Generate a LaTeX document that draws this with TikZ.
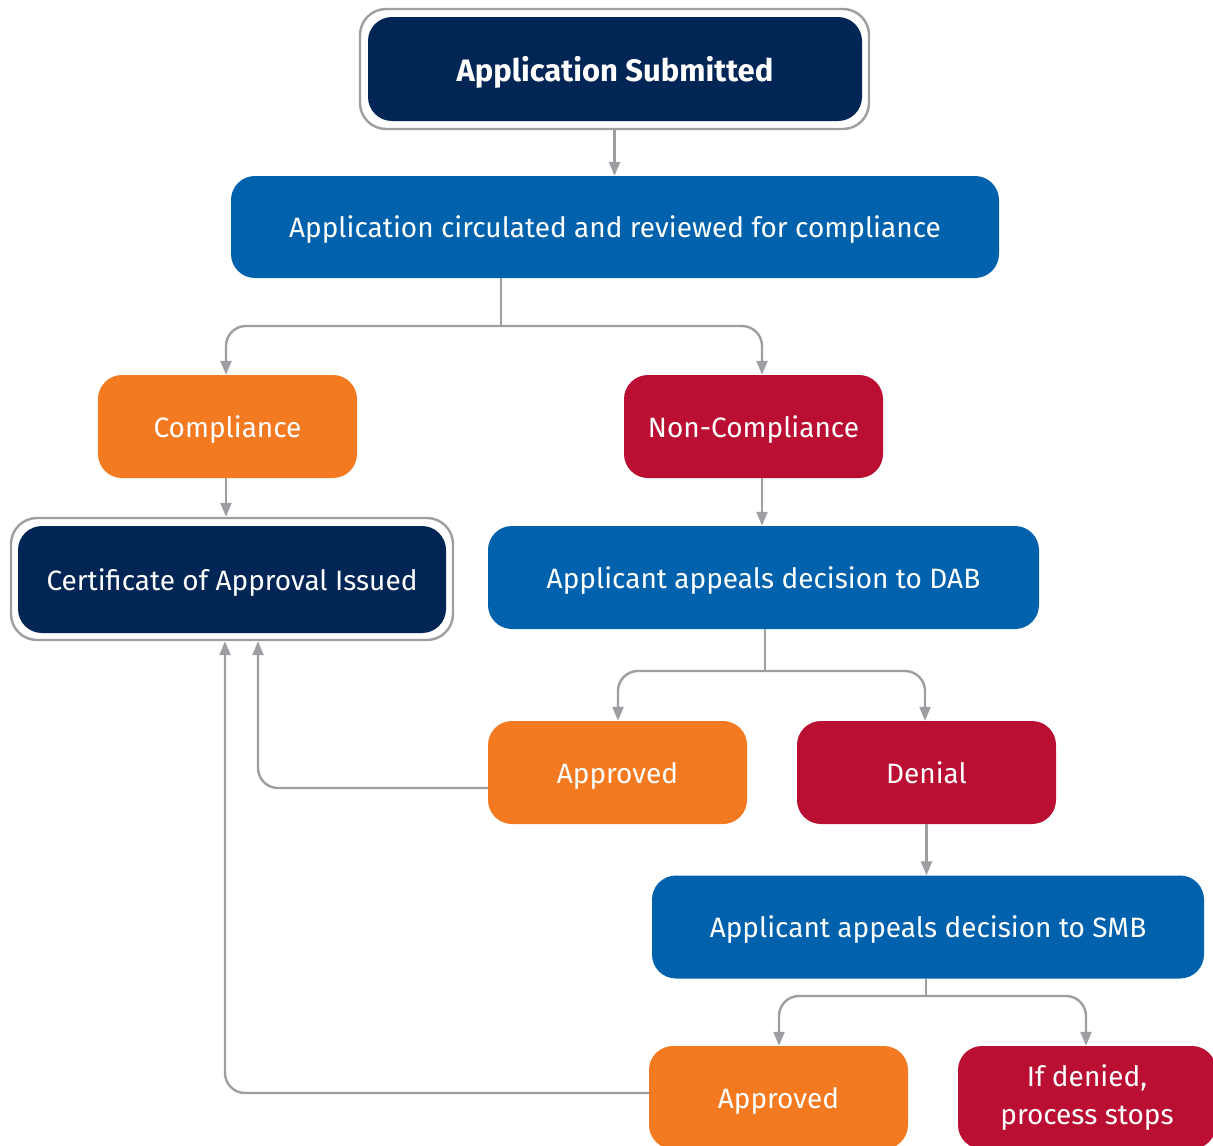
\documentclass[tikz,border=0pt]{standalone}
\usepackage{fontspec}
\setmainfont{Fira Sans}
\usetikzlibrary{arrows.meta}
\definecolor{cnavy}{HTML}{012554}
\definecolor{cblue}{HTML}{0061AC}
\definecolor{corange}{HTML}{F47A22}
\definecolor{cred}{HTML}{BA0F32}
\definecolor{cgray}{HTML}{9D9EA2}
\begin{document}
\begin{tikzpicture}[x=1pt,y=-1pt,
  box/.style={rounded corners=24pt, inner sep=0pt, minimum height=103pt, text=white,
              font=\fontsize{28}{38}\selectfont},
  oneline/.style={text height=25pt, text depth=4pt},
  outerbox/.style={rounded corners=26pt, inner sep=0pt, draw=cgray, line width=2.4pt, fill=white},
  line/.style={draw=cgray, line width=2.4pt},
  conn/.style={line, rounded corners=20pt, -{Triangle[length=14pt,width=11pt]}}
]
\useasboundingbox (0,0) rectangle (1213,1146);
\clip (0,0) rectangle (1213,1146);

\node[outerbox, minimum width=509pt, minimum height=120pt] (subo) at (614.5,69) {};
\node[box, oneline, fill=cnavy, minimum width=494pt, minimum height=104pt,
      font=\fontsize{31}{34}\selectfont\bfseries, text height=27pt, text depth=3pt] (sub) at (615,69) {Application Submitted};
\node[box, oneline, fill=cblue, minimum width=768pt, minimum height=102pt] (circ) at (615,227)
      {Application circulated and reviewed for compliance};
\node[box, oneline, fill=corange, minimum width=259pt] (comp) at (227.5,426.5) {Compliance};
\node[box, oneline, fill=cred, minimum width=259pt] (ncomp) at (753.5,426.5) {Non-Compliance};
\node[outerbox, minimum width=442pt, minimum height=122pt] (certo) at (232,579) {};
\node[box, oneline, fill=cnavy, minimum width=428pt, minimum height=107pt] (cert) at (232,579.5)
      {Certificate of Approval Issued};
\node[box, oneline, fill=cblue, minimum width=551pt] (dab) at (763.5,577.5) {Applicant appeals decision to DAB};
\node[box, oneline, fill=corange, minimum width=259pt] (ap1) at (617.5,772.5) {Approved};
\node[box, oneline, fill=cred, minimum width=259pt] (den) at (926.5,772.5) {Denial};
\node[box, oneline, fill=cblue, minimum width=552pt] (smb) at (928,927) {Applicant appeals decision to SMB};
\node[box, oneline, fill=corange, minimum width=259pt] (ap2) at (778.5,1097.5) {Approved};
\node[box, fill=cred, minimum width=258pt, align=center, text height=58pt, text depth=5pt] (stop) at (1087,1097.5) {If denied,\\process stops};

\coordinate (j1) at (501,326);
\coordinate (x1l) at (226,0);
\coordinate (x1r) at (762,0);
\coordinate (j2) at (765,671);
\coordinate (x2l) at (618,0);
\coordinate (x2r) at (925,0);
\coordinate (j3) at (926,996);
\coordinate (x3l) at (779,0);
\coordinate (x3r) at (1086,0);
\coordinate (c1) at (258,788);
\coordinate (c2) at (225,1093);

\draw[conn] (subo.south) -- (circ.north -| subo.south);
\draw[line] (circ.south -| j1) -- (j1);
\draw[conn] (j1) -| (comp.north -| x1l);
\draw[conn] (j1) -| (ncomp.north -| x1r);
\draw[conn] (comp.south -| x1l) -- (certo.north -| x1l);
\draw[conn] (ncomp.south -| x1r) -- (dab.north -| x1r);
\draw[line] (dab.south -| j2) -- (j2);
\draw[conn] (j2) -| (ap1.north -| x2l);
\draw[conn] (j2) -| (den.north -| x2r);
\draw[conn] (den.south) -- (smb.north -| den.south);
\draw[line] (smb.south -| j3) -- (j3);
\draw[conn] (j3) -| (ap2.north -| x3l);
\draw[conn] (j3) -| (stop.north -| x3r);
\draw[conn] (ap1.west |- c1) -| (certo.south -| c1);
\draw[conn] (ap2.west |- c2) -| (certo.south -| c2);
\end{tikzpicture}
\end{document}
